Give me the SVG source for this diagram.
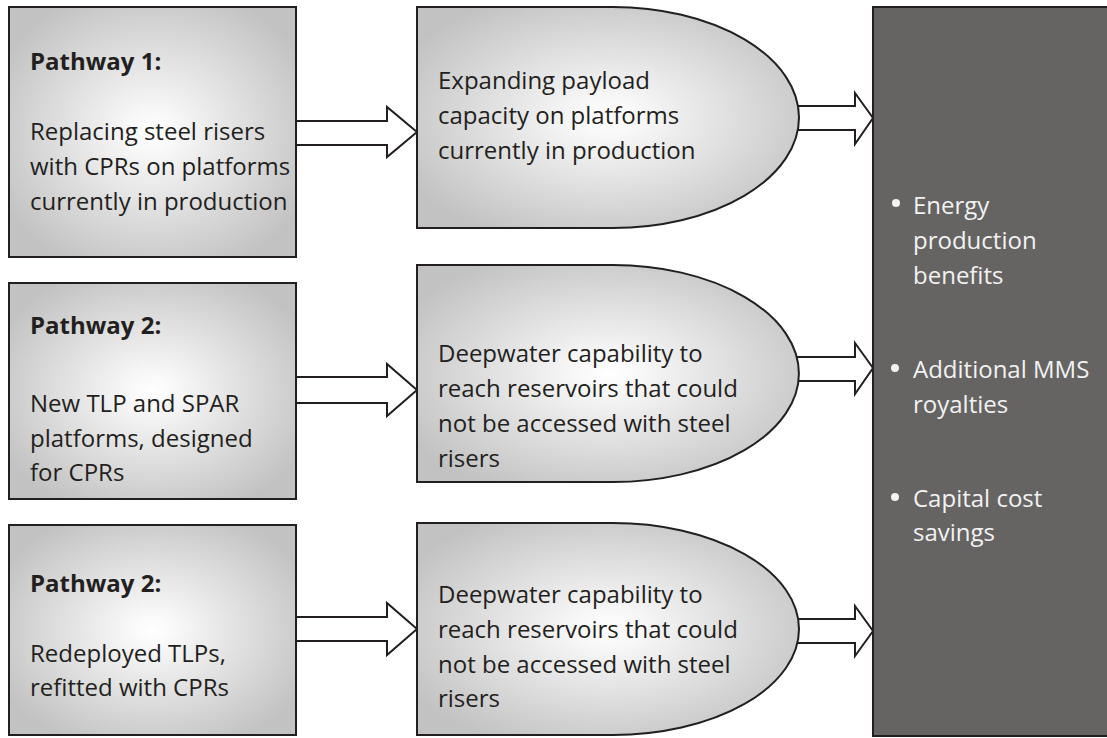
<svg xmlns="http://www.w3.org/2000/svg" width="1107" height="738" viewBox="0 0 1107 738">
<defs>
<radialGradient id="gl" cx="50%" cy="50%" r="60%">
<stop offset="0" stop-color="#ffffff"/>
<stop offset="0.12" stop-color="#f9f9f9"/>
<stop offset="1" stop-color="#c2c2c2"/>
</radialGradient>
<radialGradient id="gm" cx="50%" cy="50%" r="60%">
<stop offset="0" stop-color="#ffffff"/>
<stop offset="0.12" stop-color="#f9f9f9"/>
<stop offset="1" stop-color="#c2c2c2"/>
</radialGradient>
</defs>
<style>
.box{fill:url(#gl);stroke:#231f20;stroke-width:2}
.mid{fill:url(#gm);stroke:#231f20;stroke-width:2}
.arr{fill:#ffffff;stroke:#231f20;stroke-width:2;stroke-linejoin:miter}
.t{font-family:"Open Sans","Noto Sans",sans-serif;font-size:24px;fill:#231f20}
.b{font-weight:bold}
.w{font-family:"Open Sans","Noto Sans",sans-serif;font-size:24px;fill:#f2f2f2}
</style>
<rect width="1107" height="738" fill="#ffffff"/>
<g id="connectors">
<polygon class="arr" points="296,121 387,121 387,107 417,132 387,157 387,145 296,145"/>
<polygon class="arr" points="296,377 387,377 387,364 417,390 387,416 387,403 296,403"/>
<polygon class="arr" points="296,617 387,617 387,603 417,629 387,655 387,641 296,641"/>
<polygon class="arr" points="795,106 855,106 855,93 873,118 855,144 855,130 795,130"/>
<polygon class="arr" points="795,357 855,357 855,343 873,368 855,394 855,381 795,381"/>
<polygon class="arr" points="795,619 855,619 855,606 873,631 855,656 855,643 795,643"/>
</g>
<g id="pathway1">
<rect class="box" x="9" y="7" width="287" height="250"/>
<text class="t b" x="30" y="70">Pathway 1:</text>
<text class="t" x="30" y="140">Replacing steel risers</text>
<text class="t" x="30" y="175">with CPRs on platforms</text>
<text class="t" x="30" y="210">currently in production</text>
</g>
<g id="pathway2a">
<rect class="box" x="9" y="283" width="287" height="216"/>
<text class="t b" x="30" y="334">Pathway 2:</text>
<text class="t" x="30" y="412">New TLP and SPAR</text>
<text class="t" x="30" y="447">platforms, designed</text>
<text class="t" x="30" y="481">for CPRs</text>
</g>
<g id="pathway2b">
<rect class="box" x="9" y="525" width="287" height="210"/>
<text class="t b" x="30" y="592">Pathway 2:</text>
<text class="t" x="30" y="662">Redeployed TLPs,</text>
<text class="t" x="30" y="696">refitted with CPRs</text>
</g>
<g id="outcome1">
<path class="mid" d="M417,7 H613 A186,110.5 0 0 1 613,228 H417 Z"/>
<text class="t" x="438" y="89">Expanding payload</text>
<text class="t" x="438" y="124">capacity on platforms</text>
<text class="t" x="438" y="159">currently in production</text>
</g>
<g id="outcome2">
<path class="mid" d="M417,265 H613 A186,108.5 0 0 1 613,482 H417 Z"/>
<text class="t" x="438" y="362">Deepwater capability to</text>
<text class="t" x="438" y="397">reach reservoirs that could</text>
<text class="t" x="438" y="432">not be accessed with steel</text>
<text class="t" x="438" y="467">risers</text>
</g>
<g id="outcome3">
<path class="mid" d="M417,523 H613 A186,106 0 0 1 613,735 H417 Z"/>
<text class="t" x="438" y="603">Deepwater capability to</text>
<text class="t" x="438" y="638">reach reservoirs that could</text>
<text class="t" x="438" y="673">not be accessed with steel</text>
<text class="t" x="438" y="707">risers</text>
</g>
<g id="benefits">
<rect x="873" y="7" width="240" height="729" fill="#656463" stroke="#231f20" stroke-width="2"/>
<circle cx="896" cy="203" r="4" fill="#f2f2f2"/>
<text class="w" x="913" y="214">Energy</text>
<text class="w" x="913" y="249">production</text>
<text class="w" x="913" y="284">benefits</text>
<circle cx="895" cy="368" r="4" fill="#f2f2f2"/>
<text class="w" x="913" y="378">Additional MMS</text>
<text class="w" x="913" y="413">royalties</text>
<circle cx="895" cy="497" r="4" fill="#f2f2f2"/>
<text class="w" x="913" y="507">Capital cost</text>
<text class="w" x="913" y="541">savings</text>
</g>
</svg>
